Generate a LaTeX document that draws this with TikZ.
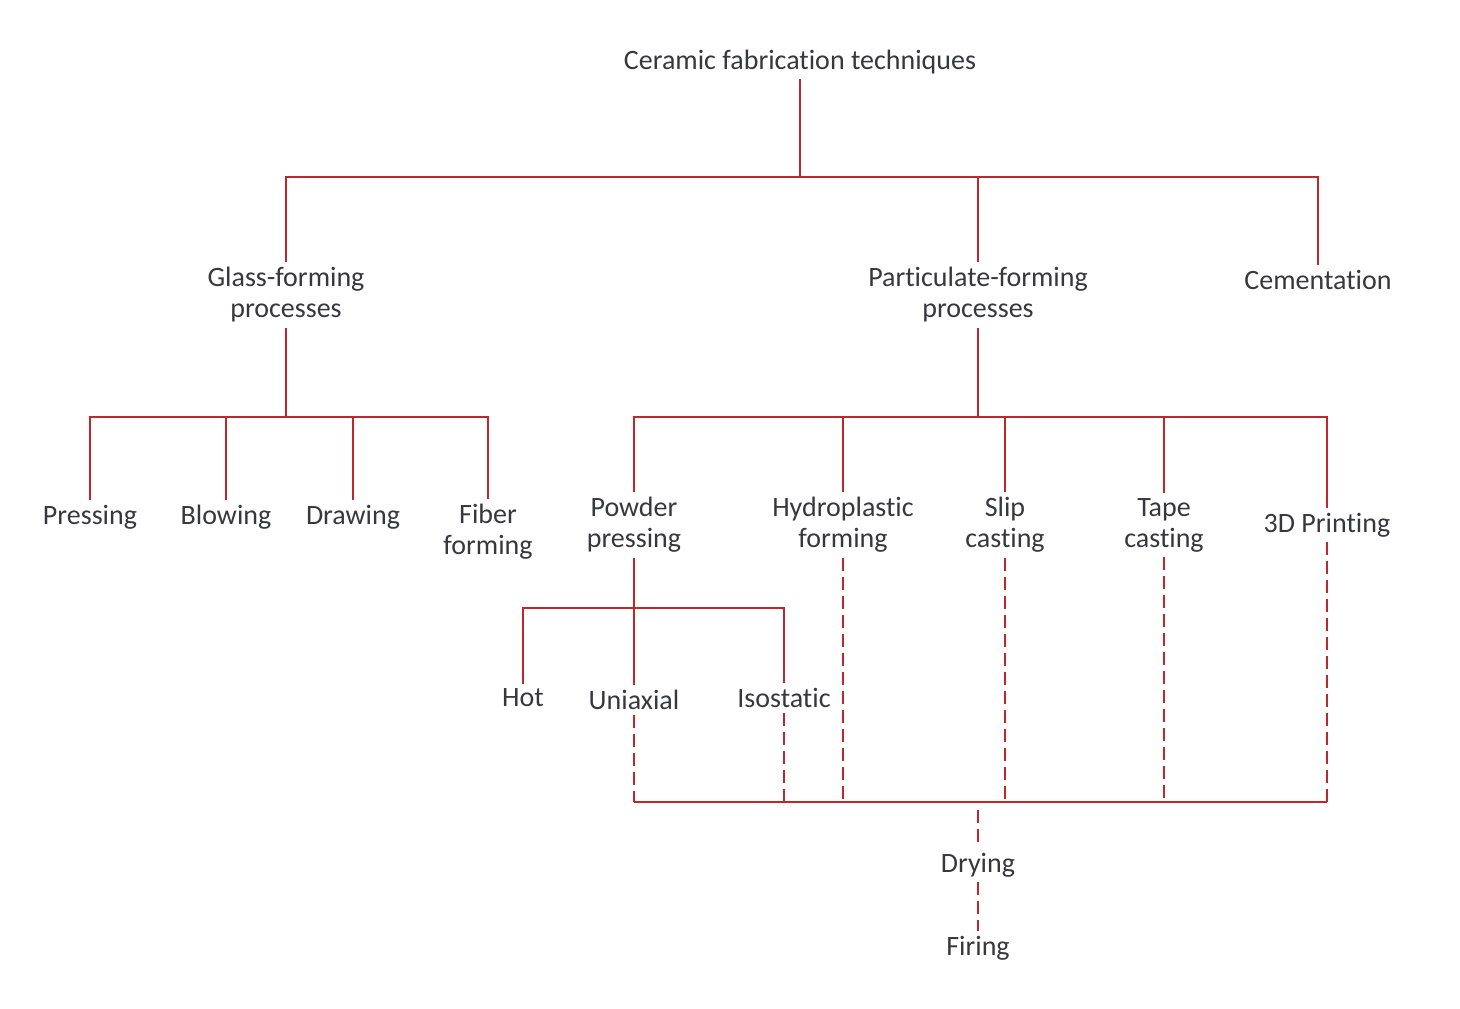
\documentclass[tikz,border=0pt]{standalone}
\usepackage{fontspec}
\setmainfont[Ligatures=NoCommon]{Carlito}
\usetikzlibrary{positioning}
\definecolor{linkred}{RGB}{192,39,45}
\definecolor{textgray}{RGB}{55,55,62}

\begin{document}
\begin{tikzpicture}[x=1pt,y=-1pt,
	proc/.style={text=textgray,font=\fontsize{28}{31}\selectfont,align=center,inner sep=5pt},
	link/.style={draw=linkred,line width=2.7pt},
	dlink/.style={link,dash pattern=on 13pt off 6pt}]
\useasboundingbox (0,0) rectangle (1460,1009);
\path (800,62) node[proc] (title) {Ceramic fabrication techniques};
\path (286,295) node[proc] (glass) {Glass-forming\\processes}
	(978,295) node[proc] (partic) {Particulate-forming\\processes}
	(1318,280) node[proc] (cement) {Cementation};
\path (90,517) node[proc] (press) {Pressing}
	(226,517) node[proc] (blow) {Blowing}
	(353,517) node[proc] (draw) {Drawing}
	(488,532) node[proc] (fiber) {Fiber\\forming};
\path (634,525) node[proc] (powder) {Powder\\pressing}
	(843,525) node[proc] (hydro) {Hydroplastic\\forming}
	(1005,525) node[proc] (slip) {Slip\\casting}
	(1164,525) node[proc] (tape) {Tape\\casting}
	(1327,525) node[proc] (print) {3D Printing};
\path (523,698) node[proc] (hot) {Hot}
	(634,700) node[proc] (uni) {Uniaxial}
	(784,698) node[proc] (iso) {Isostatic};
\path (978,865) node[proc] (dry) {Drying}
	(978,948) node[proc] (fire) {Firing};

\coordinate (topbar) at (800,177);
\coordinate (gbar) at (286,417);
\coordinate (pbar) at (978,417);
\coordinate (powbar) at (634,608);
\coordinate (bbar) at (978,802);

\path[draw][link] (title) -- (topbar);
\path[draw][link] (topbar) -| (glass);
\path[draw][link] (topbar) -| (partic);
\path[draw][link] (topbar) -| (cement);

\path[draw][link] (glass) -- (gbar);
\path[draw][link] (gbar) -| (press);
\path[draw][link] (gbar) -| (blow);
\path[draw][link] (gbar) -| (draw);
\path[draw][link] (gbar) -| (fiber);

\path[draw][link] (partic) -- (pbar);
\path[draw][link] (pbar) -| (powder);
\path[draw][link] (pbar) -| (hydro);
\path[draw][link] (pbar) -| (slip);
\path[draw][link] (pbar) -| (tape);
\path[draw][link] (pbar) -| (print);

\path[draw][link] (powder) -- (uni);
\path[draw][link] (powbar) -| (hot);
\path[draw][link] (powbar) -| (iso);

\path[draw][dlink] (uni) -- (uni |- bbar);
\path[draw][dlink] (iso) -- (iso |- bbar);
\path[draw][dlink] (hydro) -- (hydro |- bbar);
\path[draw][dlink] (slip) -- (slip |- bbar);
\path[draw][dlink] (tape) -- (tape |- bbar);
\path[draw][dlink] (print) -- (print |- bbar);
\path[draw][link] (uni |- bbar) -- (print |- bbar);

\path[draw][dlink,shorten <=8pt] (bbar) -- (dry);
\path[draw][dlink] (dry) -- (fire);
\end{tikzpicture}
\end{document}
